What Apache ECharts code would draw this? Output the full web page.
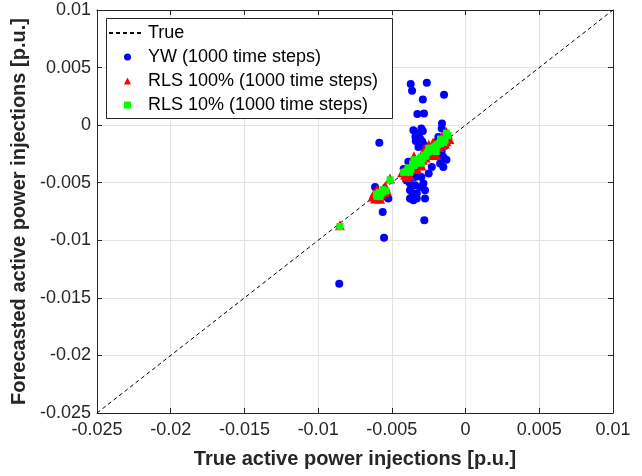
<!DOCTYPE html>
<html>
<head>
<meta charset="utf-8">
<script src="https://cdn.jsdelivr.net/npm/echarts@6/dist/echarts.min.js"></script>
<style>
  html, body { margin: 0; padding: 0; background: #fff; }
  #chart { width: 642px; height: 476px; }
</style>
</head>
<body>
<div id="chart"></div>
<script>
const axisTicks = [-0.025, -0.02, -0.015, -0.01, -0.005, 0, 0.005, 0.01];

const trueX = [-0.025, 0.01];
const trueY = [-0.025, 0.01];

const ywX = [
  -0.00372, -0.00263, -0.00363, -0.00146, -0.00290, -0.00327, -0.00282, -0.00160, -0.00162, -0.00354,
  -0.00290, -0.00585, -0.00320, -0.00309, -0.00338, -0.00286, -0.00320, -0.00275, -0.00185, -0.00162,
  -0.00151, -0.00173, -0.00151, -0.00229, -0.00388, -0.00343, -0.00377, -0.00343, -0.00286, -0.00377,
  -0.00331, -0.00275, -0.00377, -0.00331, -0.00275, -0.00354, -0.00280, -0.00614, -0.00524, -0.00562,
  -0.00553, -0.00857, -0.00300, -0.00340, -0.00295, -0.00250, -0.00200, -0.00140, -0.00130, -0.00170,
  -0.00360, -0.00300, -0.00420, -0.00600, -0.00560, -0.00310, -0.00360, -0.00400, -0.00250
];
const ywY = [
  0.00357, 0.00368, 0.00298, 0.00263, 0.00223, 0.00096, 0.00102, 0.00015, -0.00029, -0.00044,
  -0.00050, -0.00154, -0.00072, -0.00116, -0.00137, -0.00165, -0.00189, -0.00217, -0.00102, -0.00232,
  -0.00276, -0.00333, -0.00363, -0.00363, -0.00319, -0.00450, -0.00507, -0.00522, -0.00507, -0.00565,
  -0.00594, -0.00565, -0.00638, -0.00638, -0.00638, -0.00652, -0.00826, -0.00537, -0.00638, -0.00754,
  -0.00977, -0.01377, -0.00030, -0.00100, -0.00140, -0.00190, -0.00150, -0.00180, -0.00300, -0.00250,
  -0.00410, -0.00450, -0.00380, -0.00600, -0.00620, -0.00540, -0.00590, -0.00480, -0.00420
];

const rls100X = [
  -0.00430, -0.00410, -0.00400, -0.00380, -0.00370, -0.00360, -0.00350, -0.00340, -0.00330, -0.00320,
  -0.00310, -0.00300, -0.00290, -0.00280, -0.00270, -0.00260, -0.00250, -0.00240, -0.00230, -0.00220,
  -0.00210, -0.00200, -0.00190, -0.00180, -0.00170, -0.00160, -0.00150, -0.00140, -0.00140, -0.00130,
  -0.00120, -0.00110, -0.00130, -0.00400, -0.00350, -0.00300, -0.00250, -0.00200, -0.00160, -0.00380,
  -0.00280, -0.00220, -0.00330,
  -0.00614, -0.00592, -0.00558, -0.00535, -0.00600, -0.00570, -0.00512, -0.00852, -0.00620, -0.00545,
  -0.00630, -0.00580, -0.00550, -0.00600
];
const rls100Y = [
  -0.00410, -0.00430, -0.00370, -0.00390, -0.00340, -0.00370, -0.00310, -0.00350, -0.00320, -0.00290,
  -0.00330, -0.00270, -0.00300, -0.00250, -0.00280, -0.00260, -0.00220, -0.00250, -0.00190, -0.00230,
  -0.00170, -0.00210, -0.00150, -0.00190, -0.00130, -0.00170, -0.00120, -0.00160, -0.00100, -0.00140,
  -0.00080, -0.00120, -0.00060, -0.00450, -0.00270, -0.00350, -0.00170, -0.00260, -0.00100, -0.00430,
  -0.00210, -0.00150, -0.00380,
  -0.00638, -0.00580, -0.00551, -0.00565, -0.00610, -0.00600, -0.00464, -0.00870, -0.00590, -0.00530,
  -0.00620, -0.00640, -0.00580, -0.00560
];

const rls10X = [
  -0.00420, -0.00400, -0.00390, -0.00370, -0.00360, -0.00350, -0.00340, -0.00330, -0.00320, -0.00310,
  -0.00300, -0.00290, -0.00280, -0.00270, -0.00260, -0.00250, -0.00240, -0.00230, -0.00220, -0.00210,
  -0.00200, -0.00190, -0.00180, -0.00170, -0.00160, -0.00150, -0.00140, -0.00120, -0.00130, -0.00350,
  -0.00300, -0.00250, -0.00200, -0.00170, -0.00380,
  -0.00600, -0.00585, -0.00560, -0.00540, -0.00605, -0.00512, -0.00852, -0.00575, -0.00580, -0.00560
];
const rls10Y = [
  -0.00410, -0.00400, -0.00370, -0.00380, -0.00340, -0.00350, -0.00320, -0.00330, -0.00300, -0.00310,
  -0.00280, -0.00290, -0.00260, -0.00270, -0.00240, -0.00230, -0.00220, -0.00210, -0.00200, -0.00190,
  -0.00180, -0.00170, -0.00160, -0.00160, -0.00140, -0.00150, -0.00130, -0.00090, -0.00070, -0.00300,
  -0.00330, -0.00200, -0.00230, -0.00120, -0.00410,
  -0.00620, -0.00585, -0.00560, -0.00570, -0.00600, -0.00475, -0.00880, -0.00595, -0.00620, -0.00580
];

const pairs = (xs, ys) => xs.map((x, i) => [x, ys[i]]);
const fmt = (v) => String(+v.toFixed(4));

const font = "'Liberation Sans', Arial, Helvetica, sans-serif";
const axisColor = "#262626";
const labelSize = 18;
const titleSize = 20;

const baseAxis = {
  type: "value",
  min: axisTicks[0],
  max: axisTicks[axisTicks.length - 1],
  interval: 0.005,
  axisLine: { show: true, onZero: false, lineStyle: { color: axisColor, width: 1 } },
  axisTick: { show: true, inside: true, length: 5, lineStyle: { color: axisColor } },
  splitLine: { show: true, lineStyle: { color: "#e3e3e3", width: 1 } },
};

const legendText = { fontSize: labelSize, lineHeight: 18, color: "#000", fontFamily: font };

const chart = echarts.init(document.getElementById("chart"), null, { renderer: "canvas" });

chart.setOption({
  animation: false,
  backgroundColor: "#fff",
  textStyle: { fontFamily: font },
  grid: { left: 97, right: 29, top: 10, bottom: 63, containLabel: false },
  // legend frame, the two legends below sit inside it
  graphic: [
    {
      type: "rect",
      left: 106,
      top: 18,
      z: 3,
      shape: { width: 286, height: 100 },
      style: { fill: "#fff", stroke: axisColor, lineWidth: 1 },
    },
  ],
  legend: [
    {
      orient: "vertical",
      left: 108,
      top: 24,
      padding: 0,
      itemWidth: 34,
      itemHeight: 8,
      z: 4,
      textStyle: legendText,
      data: [{ name: "True", itemStyle: { opacity: 0 } }],
    },
    {
      orient: "vertical",
      left: 124,
      top: 48,
      padding: 0,
      itemGap: 6,
      itemWidth: 7,
      itemHeight: 7,
      z: 4,
      textStyle: { ...legendText, padding: [0, 0, 0, 12] },
      data: [
        { name: "YW (1000 time steps)", icon: "circle" },
        { name: "RLS 100% (1000 time steps)", icon: "triangle" },
        { name: "RLS 10% (1000 time steps)", icon: "rect" },
      ],
    },
  ],
  xAxis: [
    {
      ...baseAxis,
      position: "bottom",
      axisLabel: { color: axisColor, fontSize: labelSize, margin: 8, formatter: fmt },
      name: "True active power injections [p.u.]",
      nameLocation: "middle",
      nameGap: 36,
      nameTextStyle: { fontSize: titleSize, fontWeight: "bold", color: axisColor },
    },
    { ...baseAxis, position: "top", axisLabel: { show: false }, splitLine: { show: false } },
  ],
  yAxis: [
    {
      ...baseAxis,
      position: "left",
      axisLabel: { color: axisColor, fontSize: labelSize, margin: 6, formatter: fmt },
      name: "Forecasted active power injections [p.u.]",
      nameLocation: "middle",
      nameGap: 67,
      nameTextStyle: { fontSize: titleSize, fontWeight: "bold", color: axisColor },
    },
    { ...baseAxis, position: "right", axisLabel: { show: false }, splitLine: { show: false } },
  ],
  series: [
    {
      name: "True",
      type: "line",
      data: pairs(trueX, trueY),
      symbol: "none",
      lineStyle: { color: "#000", width: 1, type: [4, 3] },
      itemStyle: { color: "#000" },
      z: 1,
    },
    {
      name: "YW (1000 time steps)",
      type: "scatter",
      data: pairs(ywX, ywY),
      symbol: "circle",
      symbolSize: 8,
      itemStyle: { color: "#0000ff", opacity: 1 },
      z: 2,
    },
    {
      name: "RLS 100% (1000 time steps)",
      type: "scatter",
      data: pairs(rls100X, rls100Y),
      symbol: "triangle",
      symbolSize: 10,
      itemStyle: { color: "#ff0000", opacity: 1 },
      z: 2,
    },
    {
      name: "RLS 10% (1000 time steps)",
      type: "scatter",
      data: pairs(rls10X, rls10Y),
      symbol: "rect",
      symbolSize: 7,
      itemStyle: { color: "#00ff00", opacity: 1 },
      z: 2,
    },
  ],
});
</script>
</body>
</html>
